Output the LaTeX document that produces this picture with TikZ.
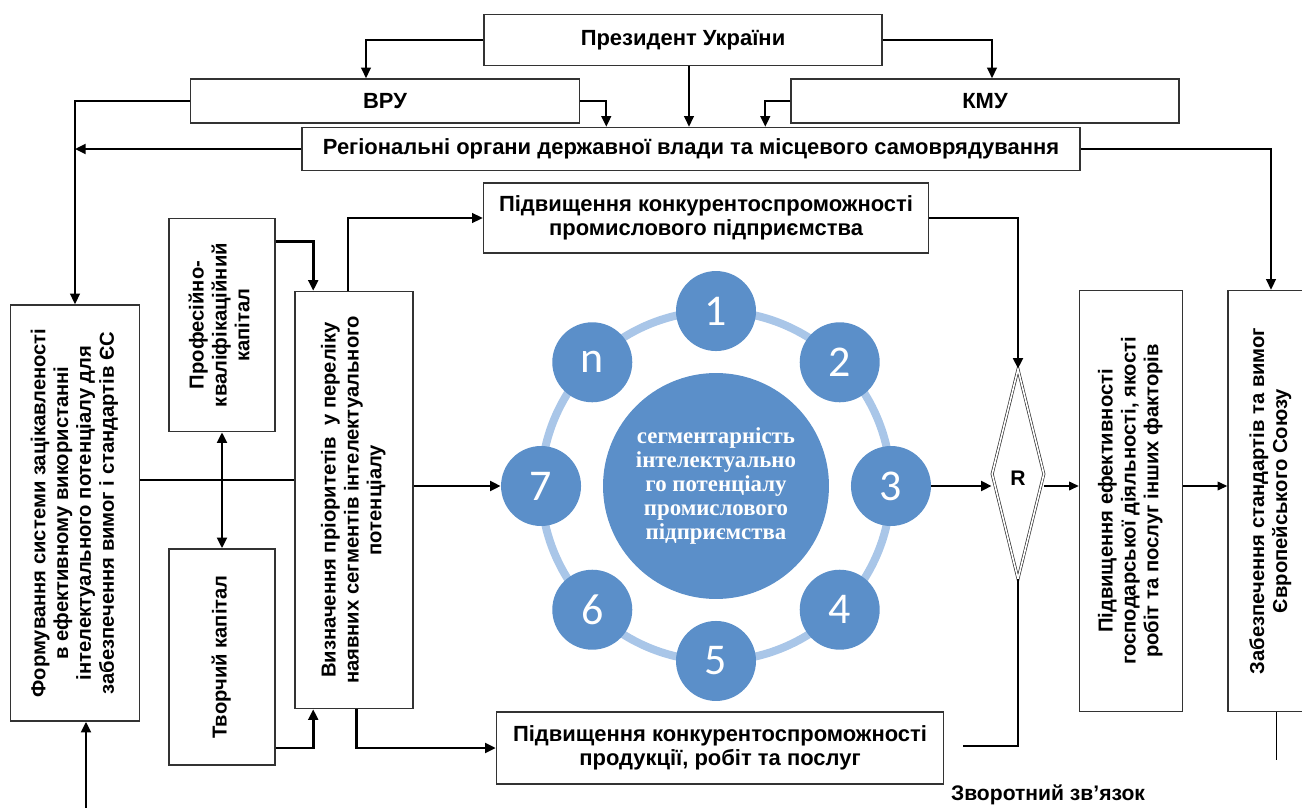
\documentclass[tikz,border=0pt]{standalone}
\usepackage{fontspec}
\setmainfont{Liberation Sans}
\newfontfamily\numfont{Carlito}
\newfontfamily\ctrfont{Liberation Serif}
\usepackage{graphicx}
\usepackage{xcolor}
\usetikzlibrary{arrows.meta, positioning, shapes.geometric, calc}
\definecolor{segblue}{HTML}{5B8FC9}
\definecolor{ringblue}{HTML}{A9C6E8}
\definecolor{boxgray}{HTML}{333333}
\newcommand{\uptext}[1]{\rotatebox{90}{\begin{tabular}{@{}c@{}}#1\end{tabular}}}

\begin{document}
\begin{tikzpicture}[
  x=0.02cm, y=-0.02cm,
  box/.style={rectangle, draw=boxgray, line width=0.9pt, fill=white, inner sep=0pt,
    font=\fontsize{12.5}{14}\selectfont\bfseries, align=center},
  vbox/.style={box, font=\fontsize{11.5}{13}\selectfont\bfseries},
  arr/.style={-{Triangle[length=6pt, width=5.5pt]}, line width=1.6pt},
  arrm/.style={-{Triangle[length=6pt, width=5.5pt]}, line width=1pt},
  arrt/.style={-{Triangle[length=5.5pt, width=5pt]}, line width=0.7pt},
  dblarr/.style={{Triangle[length=6pt, width=5.5pt]}-{Triangle[length=6pt, width=5.5pt]}, line width=1.6pt},
  link/.style={line width=0.7pt},
  seg/.style={circle, fill=segblue, minimum size=1.6cm, inner sep=0pt, text=white,
    font=\numfont\fontsize{25}{25}\selectfont},
  ring/.style={draw=ringblue, line width=0.16cm},
  lbl/.style={font=\fontsize{12}{13}\selectfont\bfseries},
]
  \useasboundingbox (0,0) rectangle (1302,808);

  % top of the scheme
  \node[box, minimum width=7.96cm, minimum height=1.02cm] (pres) at (683,40) {Президент України};
  \node[box, minimum width=7.78cm, minimum height=0.88cm] (vru) at (385,101) {ВРУ};
  \node[box, minimum width=7.76cm, minimum height=0.88cm] (kmu) at (985,101) {КМУ};
  \node[box, minimum width=15.56cm, minimum height=0.86cm] (reg) at (691,149)
    {Регіональні органи державної влади та місцевого самоврядування};
  \node[box, minimum width=8.9cm, minimum height=1.4cm] (pidpr) at (706,218)
    {Підвищення конкурентоспроможності\\промислового підприємства};

  % left column
  \node[vbox, minimum width=2.58cm, minimum height=8.32cm] (form) at (75,513)
    {\uptext{Формування системи зацікавленості\\в ефективному використанні\\інтелектуального потенціалу для\\забезпечення вимог і стандартів ЄС}};
  \node[vbox, minimum width=2.12cm, minimum height=4.26cm] (prof) at (222,325)
    {\uptext{Професійно-\\кваліфікаційний\\капітал}};
  \node[vbox, minimum width=2.12cm, minimum height=4.32cm] (tvor) at (222,657)
    {\uptext{Творчий капітал}};
  \node[vbox, minimum width=2.36cm, minimum height=8.34cm] (vyzn) at (354,500)
    {\uptext{Визначення пріоритетів\ \ у переліку\\наявних сегментів інтелектуального\\потенціалу}};
  \node[box, minimum width=8.94cm, minimum height=1.44cm] (prod) at (720,748)
    {Підвищення конкурентоспроможності\\продукції, робіт та послуг};

  % segments
  \node[circle, fill=segblue, minimum size=4.52cm, inner sep=0pt, text=white, align=center,
    font=\ctrfont\bfseries\fontsize{13}{13.8}\selectfont] (ctr) at (716,486)
    {сегментарність\\інтелектуально\\го потенціалу\\промислового\\підприємства};
  \draw[ring] (ctr.center) circle[radius=3.5cm];
  \foreach \lab/\ang/\nm in {1/90/s1, 2/45/s2, 3/0/s3, 4/-45/s4, 5/-90/s5, 6/-135/s6, 7/180/s7, n/135/sn}
    \node[seg] (\nm) at ($(ctr.center)+(\ang:3.5cm)$) {\lab};

  % right part
  \node[diamond, draw=boxgray, double=white, double distance=0.9pt, line width=0.4pt,
    minimum width=1.04cm, minimum height=4.2cm, inner sep=0pt,
    font=\fontsize{12}{13}\selectfont\bfseries] (rdiam) at (1018,474) {\raisebox{-0.44cm}{R}};
  \node[vbox, minimum width=2.06cm, minimum height=8.42cm] (eff) at (1131,501)
    {\uptext{Підвищення ефективності\\господарської діяльності, якості\\робіт та послуг інших факторів}};
  \node[vbox, minimum width=1.72cm, minimum height=8.42cm] (zab) at (1271,501)
    {\uptext{Забезпечення стандартів та вимог\\Європейського Союзу}};
  \node[lbl] (fblabel) at (1048,795) {Зворотний зв’язок};

  % connectors
  \coordinate (vrutop) at ($(vru.north)+(-19,0)$);
  \coordinate (kmutop) at ($(kmu.north)+(7,0)$);
  \coordinate (presdn) at ($(pres.south)+(6,0)$);
  \coordinate (regin1) at ($(reg.north west)+(305,0)$);
  \coordinate (regin2) at ($(reg.north west)+(464,0)$);
  \draw[arrm] (pres.west) -| (vrutop);
  \draw[arrm] (pres.east) -| (kmutop);
  \draw[arrm] (presdn) -- (presdn |- reg.north);
  \draw[arrm] (vru.east) -| (regin1);
  \draw[arrm] (kmu.west) -| (regin2);
  \draw[arrm] (vru.west) -| (form.north);
  \draw[arr] (reg.west) -- (reg.west -| form.north);
  \draw[arrm] (reg.east) -| (zab.north);

  \coordinate (vyznup) at ($(vyzn.north west)+(54,0)$);
  \coordinate (profout) at ($(prof.north east)+(0,24)$);
  \coordinate (vyznin1) at ($(vyzn.north west)+(19,0)$);
  \coordinate (vyznin2) at ($(vyzn.south west)+(19,0)$);
  \coordinate (vyzndn) at ($(vyzn.south west)+(62,0)$);
  \coordinate (formmid) at ($(form.east)+(0,-33)$);
  \draw[arrm] (vyznup) |- (pidpr.west);
  \draw[arr] (pidpr.east) -| (rdiam.north);
  \draw[arr] (profout) -| (vyznin1);
  \draw[dblarr] (prof.south) -- (tvor.north);
  \draw[link] (formmid) -- (formmid -| vyzn.west);
  \draw[arr] (tvor.east |- prod.west) -| (vyznin2);
  \draw[arr] (vyzndn) |- (prod.west);
  \draw[arr] (vyzn.east |- s7.west) -- (s7.west);
  \draw[arr] (s3.east) -- (s3.east -| rdiam.west);
  \draw[arrt] (rdiam.east |- s3.east) -- (s3.east -| eff.west);
  \draw[arrt] (eff.east |- s3.east) -- (s3.east -| zab.west);

  \coordinate (fbend) at (963,746);
  \coordinate (zabend) at ($(zab.south west)+(49,48)$);
  \coordinate (formend) at (86,812);
  \draw[link] (rdiam.south) |- (fbend);
  \draw[link] (zabend |- zab.south) -- (zabend);
  \draw[arr] (formend) -- (formend |- form.south);
\end{tikzpicture}
\end{document}
